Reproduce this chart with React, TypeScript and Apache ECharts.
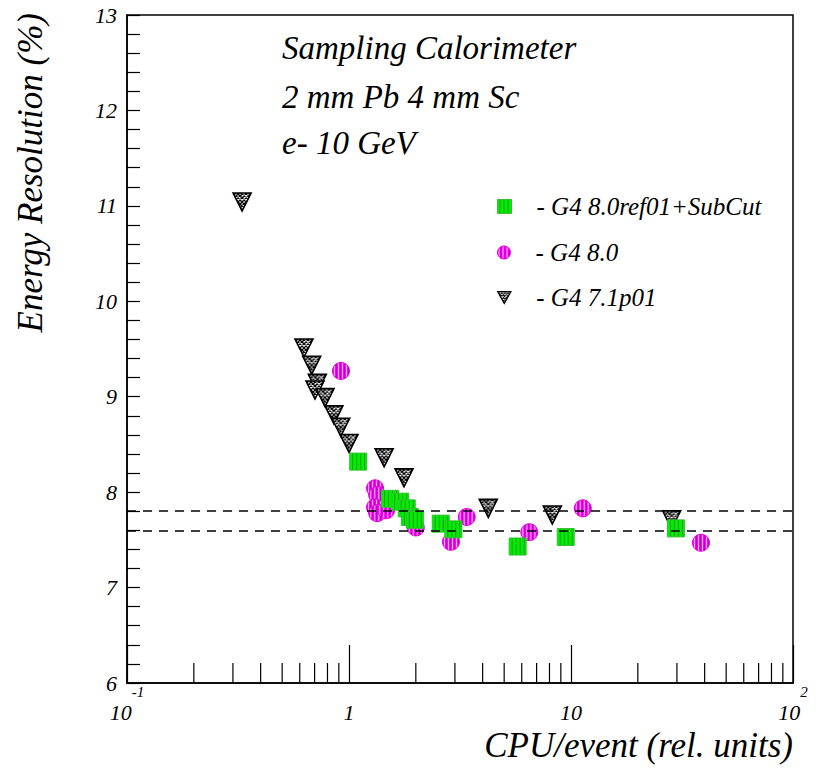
import React, { useEffect, useRef } from "react";
import * as echarts from "echarts";

// ---- data ----
const refX: number[] = [1.1, 1.53, 1.7, 1.82, 1.88, 1.98, 2.59, 2.95, 5.75, 9.47, 29.7];
const refY: number[] = [8.32, 7.93, 7.9, 7.83, 7.74, 7.71, 7.67, 7.61, 7.43, 7.53, 7.62];

const g48X: number[] = [0.92, 1.31, 1.34, 1.31, 1.34, 1.47, 2.0, 2.88, 3.39, 6.49, 11.3, 38.5];
const g48Y: number[] = [9.27, 8.04, 7.97, 7.84, 7.78, 7.81, 7.63, 7.48, 7.74, 7.58, 7.83, 7.47];

const g47X: number[] = [0.33, 0.627, 0.679, 0.72, 0.703, 0.78, 0.855, 0.918, 1.0, 1.44, 1.77, 4.24, 8.24, 28.4];
const g47Y: number[] = [11.04, 9.51, 9.33, 9.14, 9.07, 8.99, 8.81, 8.68, 8.51, 8.36, 8.15, 7.83, 7.76, 7.71];

const refLines: number[] = [7.8, 7.6];
const xMinorTicks: number[] = [0.2, 0.3, 0.4, 0.5, 0.6, 0.7, 0.8, 0.9, 2, 3, 4, 5, 6, 7, 8, 9, 20, 30, 40, 50, 60, 70, 80, 90];
const titleLines: string[] = ["Sampling Calorimeter", "2 mm Pb 4 mm Sc", "e- 10 GeV"];
const seriesNames: string[] = ["G4 8.0ref01+SubCut", "G4 8.0", "G4 7.1p01"];

const FONT = "'Liberation Serif', 'DejaVu Serif', serif";

// 12px tiles so the pattern image stays > 1 unit after the symbol's scaling
const GREEN_SVG =
  "<rect width='12' height='12' fill='#00ee00'/>" +
  "<rect x='2' width='1' height='12' fill='#1f9a1f'/><rect x='6' width='1' height='12' fill='#1f9a1f'/><rect x='10' width='1' height='12' fill='#1f9a1f'/>";
const MAGENTA_SVG =
  "<rect width='12' height='12' fill='#ff00ff'/>" +
  "<rect x='1' width='1' height='12' fill='#ffb8ff'/><rect x='5' width='1' height='12' fill='#ffb8ff'/><rect x='9' width='1' height='12' fill='#ffb8ff'/>" +
  "<rect x='3' width='0.8' height='12' fill='#a800a8'/><rect x='7' width='0.8' height='12' fill='#a800a8'/><rect x='11' width='0.8' height='12' fill='#a800a8'/>";
const HATCH_SVG =
  "<rect width='12' height='12' fill='#ffffff'/>" +
  "<path d='M-8,0L4,12M-4,0L8,12M0,0L12,12M4,0L16,12M8,0L20,12M-8,12L4,0M-4,12L8,0M0,12L12,0M4,12L16,0M8,12L20,0' stroke='#000' stroke-width='1.25'/>";

// unit = scale applied by the symbol (symbolSize / 2)
function pattern(body: string, unit: number) {
  const tile = 12;
  const svg =
    "<svg xmlns='http://www.w3.org/2000/svg' width='" + tile + "' height='" + tile +
    "' viewBox='0 0 " + tile + " " + tile + "'>" + body + "</svg>";
  return {
    image: "data:image/svg+xml;charset=utf-8," + encodeURIComponent(svg),
    repeat: "repeat",
    imageWidth: tile / unit,
    imageHeight: tile / unit,
  } as any;
}

const SQ = 17;
const CI = 17;
const TRI = 18;

const zip = (xs: number[], ys: number[]) => xs.map((x, i) => [x, ys[i]]);

export default function App() {
  const ref = useRef<HTMLDivElement>(null);
  useEffect(() => {
    if (!ref.current) return;
    const chart = echarts.init(ref.current, null, { renderer: "svg" });
    const labelFmt = (v: number) => {
      const e = Math.round(Math.log10(v));
      if (e === 0) return "{b|1}";
      if (e === 1) return "{b|10}";
      return "{b|10}{sup|" + e + "}";
    };
    const legendBase = (
      name: string,
      top: number,
      icon: string,
      w: number,
      h: number,
      itemStyle: any
    ) => ({
      data: [{ name, icon, itemStyle }],
      left: 497,
      top,
      padding: 0,
      itemWidth: w,
      itemHeight: h,
      selectedMode: false,
      formatter: (n: string) => "{t|- " + n + "}",
      textStyle: {
        color: "#000",
        fontFamily: FONT,
        fontStyle: "italic",
        fontSize: 25,
        rich: {
          t: { padding: [0, 0, 0, 20], fontFamily: FONT, fontStyle: "italic", fontSize: 25, color: "#000", lineHeight: 26 },
        },
      },
    });
    chart.setOption({
      animation: false,
      backgroundColor: "#ffffff",
      grid: {
        left: 127,
        top: 15,
        right: 26,
        bottom: 85,
        show: true,
        borderColor: "#000",
        borderWidth: 1.5,
        backgroundColor: "transparent",
      },
      legend: [
        legendBase(seriesNames[0], 194, "rect", 14, 14, {
          color: pattern(GREEN_SVG, 1), borderColor: "#30c030", borderWidth: 1,
        }),
        legendBase(seriesNames[1], 240, "circle", 13, 13, {
          color: pattern(MAGENTA_SVG, 1), borderColor: "#e000e0", borderWidth: 1,
        }),
        legendBase(seriesNames[2], 285, "path://M0,0L10,0L5,9Z", 14, 12, {
          color: pattern(HATCH_SVG, 1.3), borderColor: "#000", borderWidth: 1.2,
        }),
      ],
      xAxis: {
        type: "log",
        logBase: 10,
        min: 0.1,
        max: 100,
        axisLine: { show: true, lineStyle: { color: "#000", width: 1.5 } },
        axisTick: { show: true, inside: true, length: 38, lineStyle: { color: "#000", width: 1.2 } },
        splitLine: { show: false },
        axisLabel: {
          margin: 1,
          color: "#000",
          formatter: labelFmt,
          rich: {
            b: { fontFamily: FONT, fontStyle: "italic", fontSize: 22, color: "#000", lineHeight: 56 },
            sup: { fontFamily: FONT, fontStyle: "italic", fontSize: 15, color: "#000", verticalAlign: "top", lineHeight: 14 },
          },
        },
      },
      yAxis: {
        type: "value",
        min: 6,
        max: 13,
        interval: 1,
        axisLine: { show: true, onZero: false, lineStyle: { color: "#000", width: 1.5 } },
        axisTick: { show: true, inside: true, length: 13, lineStyle: { color: "#000", width: 1.2 } },
        minorTick: { show: true, splitNumber: 5, length: 13, lineStyle: { color: "#000", width: 1.2 } },
        splitLine: { show: false },
        minorSplitLine: { show: false },
        axisLabel: { margin: 10, color: "#000", fontFamily: FONT, fontStyle: "italic", fontSize: 22 },
      },
      graphic: [
        ...titleLines.map((t, i) => ({
          type: "text",
          x: 282,
          y: [48, 97, 143][i],
          silent: true,
          style: {
            text: t,
            fill: "#000",
            font: "italic 33px " + FONT,
            align: "left",
            verticalAlign: "middle",
            textAlign: "left",
            textVerticalAlign: "middle",
          },
        })),
        {
          type: "text",
          x: 30,
          y: 13,
          rotation: Math.PI / 2,
          silent: true,
          style: {
            text: "Energy Resolution (%)",
            fill: "#000",
            font: "italic 35px " + FONT,
            align: "right",
            verticalAlign: "middle",
            textAlign: "right",
            textVerticalAlign: "middle",
          },
        },
        {
          type: "text",
          x: 793,
          y: 745,
          silent: true,
          style: {
            text: "CPU/event (rel. units)",
            fill: "#000",
            font: "italic 35px " + FONT,
            align: "right",
            verticalAlign: "middle",
            textAlign: "right",
            textVerticalAlign: "middle",
          },
        },
      ],
      series: [
        {
          type: "custom",
          name: "xMinorTicks",
          silent: true,
          clip: false,
          z: 1,
          data: xMinorTicks.map((v) => [v, 6]),
          renderItem: (params: any, api: any) => {
            const p = api.coord([api.value(0), api.value(1)]);
            return {
              type: "line",
              shape: { x1: p[0], y1: p[1], x2: p[0], y2: p[1] - 20 },
              style: { stroke: "#000", lineWidth: 1.2 },
            };
          },
        },
        {
          type: "scatter",
          name: seriesNames[2],
          symbol: "triangle",
          symbolRotate: 180,
          symbolSize: TRI,
          z: 2,
          itemStyle: { color: pattern(HATCH_SVG, TRI / 2), borderColor: "#000", borderWidth: 1.6, opacity: 1 },
          data: zip(g47X, g47Y),
        },
        {
          type: "scatter",
          name: seriesNames[1],
          symbol: "circle",
          symbolSize: CI,
          z: 3,
          itemStyle: { color: pattern(MAGENTA_SVG, CI / 2), borderColor: "#e000e0", borderWidth: 1, opacity: 1 },
          data: zip(g48X, g48Y),
        },
        {
          type: "scatter",
          name: seriesNames[0],
          symbol: "rect",
          symbolSize: SQ,
          z: 4,
          itemStyle: { color: pattern(GREEN_SVG, SQ / 2), borderColor: "#30c030", borderWidth: 1, opacity: 1 },
          data: zip(refX, refY),
          markLine: {
            silent: true,
            symbol: ["none", "none"],
            label: { show: false },
            lineStyle: { color: "#000", type: [9, 7], width: 1.5 },
            data: refLines.map((v) => ({ yAxis: v })),
          },
        },
      ],
    });
    return () => chart.dispose();
  }, []);
  return <div ref={ref} style={{ width: 819, height: 768, position: "absolute", left: 0, top: 0 }} />;
}
